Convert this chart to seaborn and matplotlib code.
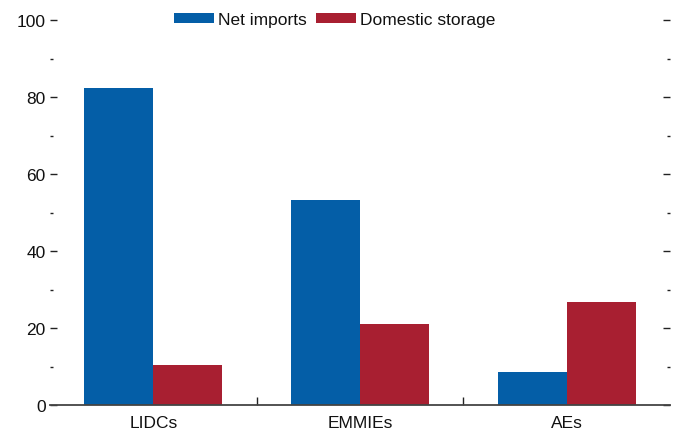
import numpy as np
import matplotlib
matplotlib.use("Agg")
import matplotlib.pyplot as plt
from matplotlib.ticker import MultipleLocator, FixedLocator
import pandas as pd
import seaborn as sns

groups = ["LIDCs", "EMMIEs", "AEs"]
net_imports = [82.3, 53.2, 8.7]
domestic_storage = [10.5, 21.1, 26.8]

df = pd.DataFrame({
    "group": groups * 2,
    "series": ["Net imports"] * 3 + ["Domestic storage"] * 3,
    "value": net_imports + domestic_storage,
})

sns.set_style("white")
plt.rcParams['font.family'] = ['Liberation Sans Narrow', 'Liberation Sans', 'DejaVu Sans']
plt.rcParams['font.size'] = 12.5
plt.rcParams['text.color'] = "#111111"
plt.rcParams['xtick.color'] = "#111111"
plt.rcParams['ytick.color'] = "#111111"

fig = plt.figure(figsize=(6.73, 4.35), dpi=100)
ax = fig.add_axes([50/673, 29/435, 620/673, 385/435])

colors = {"Net imports": "#045EA7", "Domestic storage": "#A81F31"}
sns.barplot(data=df, x="group", y="value", hue="series", palette=colors,
            width=0.667, gap=0, saturation=1, linewidth=0, ax=ax)

ax.set_xlim(-0.5, 2.5)
ax.set_ylim(0, 100)
ax.set_xlabel("")
ax.set_ylabel("")
for s in ["left", "right", "top"]:
    ax.spines[s].set_visible(False)
ax.spines["bottom"].set_color("#444444")
ax.spines["bottom"].set_linewidth(1.3)

ax.yaxis.set_major_locator(MultipleLocator(20))
ax.yaxis.set_minor_locator(MultipleLocator(10))
ax.tick_params(axis="y", which="major", direction="in", length=5, width=1,
               color="#222222", left=True, right=True, labelsize=12.5, pad=3)
ax.tick_params(axis="y", which="minor", direction="in", length=2.5, width=1,
               color="#222222", left=True, right=True)
ax.xaxis.set_minor_locator(FixedLocator([0.5, 1.5]))
ax.tick_params(axis="x", which="major", length=0, labelsize=12.5, pad=7)
ax.tick_params(axis="x", which="minor", direction="in", length=6, width=1,
               color="#222222", bottom=True)
ax.grid(False)

ax.legend(loc="center", bbox_to_anchor=(0.459, 1.0), ncol=2, frameon=False,
          handlelength=2.3, handleheight=0.48, handletextpad=0.25,
          columnspacing=0.5, fontsize=12.5, borderaxespad=0)

fig.savefig("out.png", dpi=100)
